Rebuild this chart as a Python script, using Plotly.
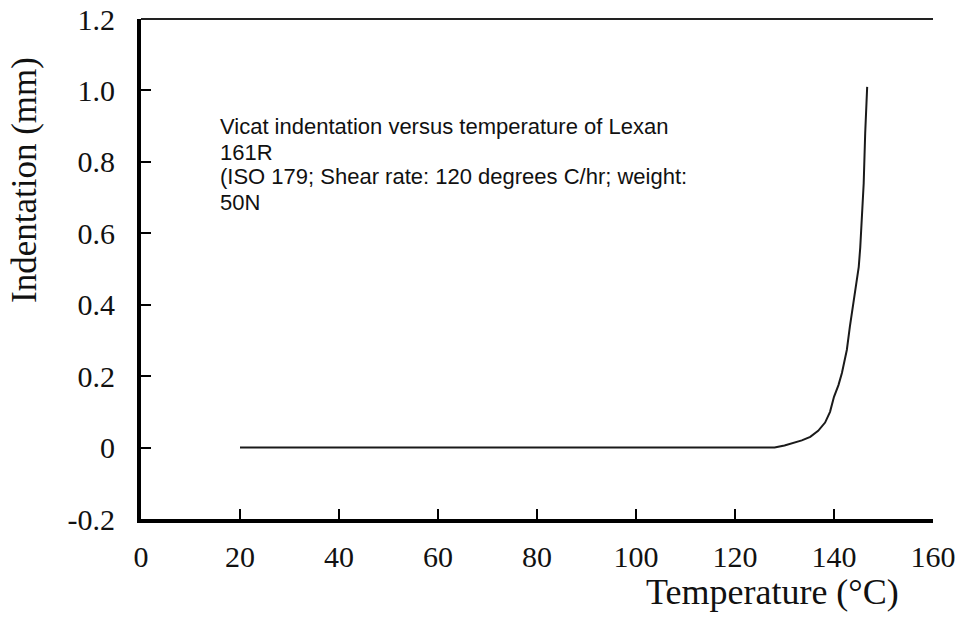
import plotly.graph_objects as go

# Data
temperature = [20, 40, 60, 80, 100, 120, 125, 128, 130, 131.7, 133.5, 135.2, 136.8, 138.2, 139.2, 140.0,
               140.9, 141.6, 142.6, 143.2, 144.0, 145.0, 145.3, 145.6, 146.0, 146.3, 146.7]
indentation = [0, 0, 0, 0, 0, 0, 0, 0, 0.006, 0.013, 0.02, 0.03, 0.047, 0.07, 0.1, 0.142,
               0.175, 0.209, 0.274, 0.338, 0.414, 0.506, 0.56, 0.64, 0.74, 0.88, 1.01]

x_ticks = [0, 20, 40, 60, 80, 100, 120, 140, 160]
y_ticks = [-0.2, 0, 0.2, 0.4, 0.6, 0.8, 1.0, 1.2]
y_tick_labels = ["-0.2", "0", "0.2", "0.4", "0.6", "0.8", "1.0", "1.2"]

note_lines = ["Vicat indentation versus temperature of Lexan",
              "161R",
              "(ISO 179; Shear rate: 120 degrees C/hr; weight:",
              "50N"]
x_title = "Temperature (°C)"
y_title = "Indentation (mm)"

serif = "Liberation Serif, Times New Roman, serif"
sans = "Liberation Sans, Arial, sans-serif"

W, H = 962, 621
L, R, T, B = 141, 29, 19, 102
PH = H - T - B
PW = W - L - R


def px_to_paper_x(px):
    return (px - L) / PW


def px_to_paper_y(py):
    return (H - B - py) / PH


fig = go.Figure()
fig.add_trace(go.Scatter(x=temperature, y=indentation, mode="lines",
                         line=dict(color="#1a1a1a", width=2), showlegend=False,
                         hoverinfo="skip"))

axis_common = dict(showline=True, linecolor="black", linewidth=4, ticks="inside",
                   ticklen=10, tickwidth=2, tickcolor="black", showgrid=False,
                   zeroline=False, automargin=False, ticklabeloverflow="allow",
                   tickfont=dict(family=serif, size=30, color="#111"))

fig.update_xaxes(range=[0, 160], tickvals=x_ticks, ticklabelstandoff=8, **axis_common)
fig.update_yaxes(range=[-0.2, 1.2], tickvals=y_ticks, ticktext=y_tick_labels,
                 ticklabelstandoff=16, **axis_common)

# top border line
fig.add_shape(type="line", xref="paper", yref="paper", x0=0, x1=1, y0=1, y1=1,
              line=dict(color="#222", width=2))

for i, line in enumerate(note_lines):
    fig.add_annotation(x=px_to_paper_x(218), y=px_to_paper_y(127 + 25 * i),
                       xref="paper", yref="paper", xanchor="left", yanchor="middle",
                       text=line, showarrow=False, align="left",
                       font=dict(family=sans, size=22, color="#111"))

fig.add_annotation(x=px_to_paper_x(772), y=px_to_paper_y(592), xref="paper", yref="paper",
                   xanchor="center", yanchor="middle", text=x_title, showarrow=False,
                   font=dict(family=serif, size=36, color="#111"))
fig.add_annotation(x=px_to_paper_x(25), y=px_to_paper_y(180), xref="paper", yref="paper",
                   xanchor="center", yanchor="middle", text=y_title, showarrow=False,
                   textangle=-90, font=dict(family=serif, size=35, color="#111"))

fig.update_layout(width=W, height=H, margin=dict(l=L, r=R, t=T, b=B),
                  plot_bgcolor="white", paper_bgcolor="white")

# remove the browser's default 8px body margin so the figure fills the window exactly
fig.write_html("out.html", config={"displayModeBar": False},
               post_script="document.body.style.margin='0';document.body.style.overflow='hidden';")
